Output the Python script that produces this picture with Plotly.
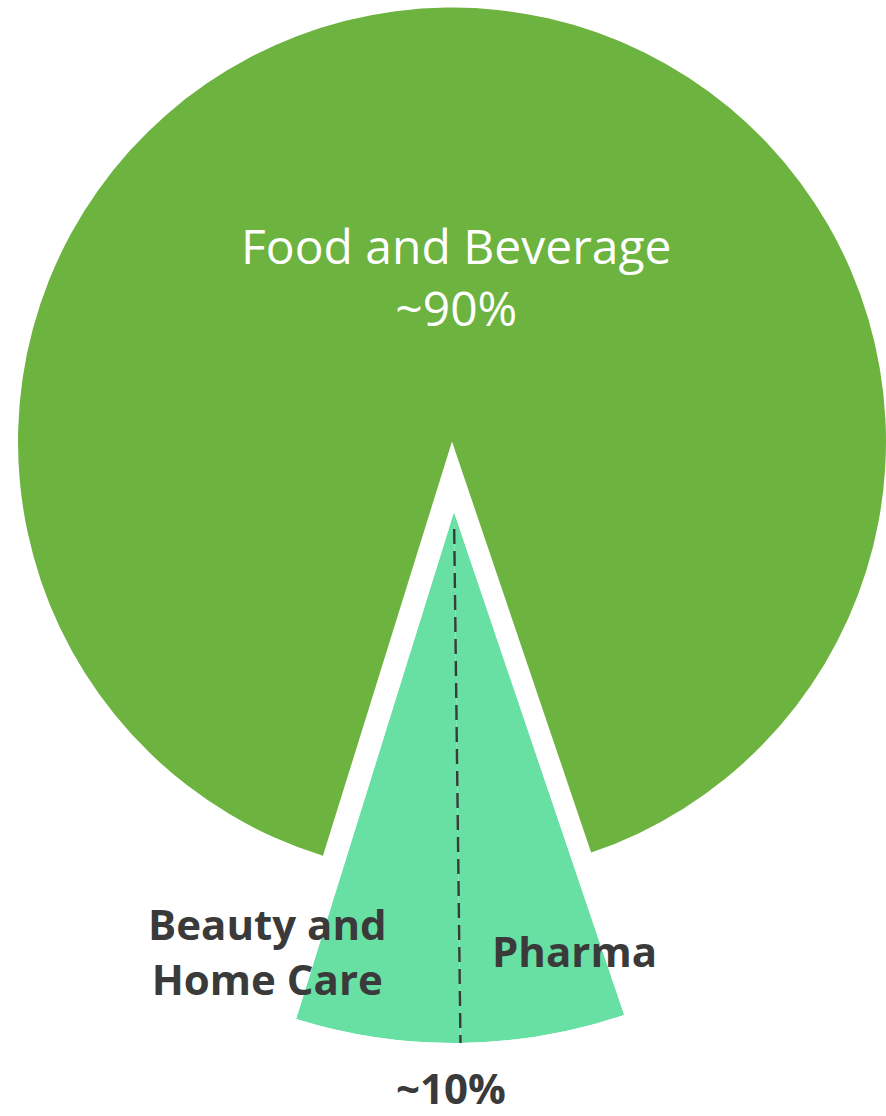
import numpy as np
import plotly.graph_objects as go

# ---------------- data ----------------
categories = ["Food and Beverage", "Pharma", "Beauty and Home Care"]
values = [90, 5, 5]
pct_labels = ["~90%", "~10%"]

# ---------------- style / layout constants ----------------
W, H = 886, 1116
GREEN = "#6db33f"
LIGHT = "#68e0a4"
DARK = "#3a3a3a"
FONT = "Open Sans"
ROT = 197.3                    # start angle of first slice, clockwise from 12 o'clock

# big pie geometry (pixels)
BIG_CX, BIG_CY, BIG_R = 452.0, 441.5, 434.0
# exploded wedge geometry (pixels)
SM_CX, SM_CY, SM_R = 454.0, 512.0, 531.0

vals = np.array(values, dtype=float)
frac = vals / vals.sum()
starts = np.concatenate([[0], np.cumsum(frac)[:-1]])
theta_c = (ROT + (starts + frac / 2) * 360) % 360   # clockwise from top
widths = frac * 360

# sector of the small wedge in polar "sector" convention (ccw from east)
small_lo = ROT + starts[1] * 360
small_hi = ROT + (starts[2] + frac[2]) * 360
sector = [(90 - small_hi) % 360, (90 - small_hi) % 360 + (small_hi - small_lo)]

def sector_bbox(s0, s1):
    angs = np.deg2rad(np.linspace(s0, s1, 721))
    xs = np.concatenate([[0], np.cos(angs)])
    ys = np.concatenate([[0], np.sin(angs)])
    return xs.min(), ys.min(), xs.max(), ys.max()

bx0, by0, bx1, by1 = sector_bbox(*sector)
sm_dom_x = [(SM_CX + SM_R * bx0) / W, (SM_CX + SM_R * bx1) / W]
sm_dom_y = [(H - (SM_CY - SM_R * by0)) / H, (H - (SM_CY - SM_R * by1)) / H]

big_dom_x = [max(0, (BIG_CX - BIG_R) / W), min(1, (BIG_CX + BIG_R) / W)]
big_dom_y = [(H - (BIG_CY + BIG_R)) / H, (H - (BIG_CY - BIG_R)) / H]

fig = go.Figure()

# big slice (Food and Beverage) as pie, other slices invisible
fig.add_trace(go.Pie(
    labels=categories, values=values, sort=False, direction="clockwise",
    rotation=ROT, textinfo="none", hoverinfo="label+percent",
    marker=dict(colors=[GREEN, "rgba(0,0,0,0)", "rgba(0,0,0,0)"],
                line=dict(width=0)),
    domain=dict(x=big_dom_x, y=big_dom_y), showlegend=False,
))

# exploded wedge: Pharma + Beauty and Home Care
fig.add_trace(go.Barpolar(
    r=[1, 1], theta=list(theta_c[1:]), width=list(widths[1:]),
    marker=dict(color=LIGHT, line=dict(width=0)),
    name="", text=categories[1:], hoverinfo="text",
    subplot="polar", showlegend=False,
))

# dashed divider between the two small categories
div_theta = (ROT + starts[2] * 360) % 360
fig.add_trace(go.Scatterpolar(
    r=[0.032, 1.004], theta=[div_theta, div_theta], mode="lines",
    line=dict(color=DARK, width=2.4, dash="15px,7px"),
    cliponaxis=False, hoverinfo="skip", subplot="polar", showlegend=False,
))

fig.update_layout(
    width=W, height=H, margin=dict(l=0, r=0, t=0, b=0),
    paper_bgcolor="white", plot_bgcolor="white",
    polar=dict(
        domain=dict(x=sm_dom_x, y=sm_dom_y),
        sector=sector, bgcolor="rgba(0,0,0,0)",
        radialaxis=dict(visible=False, range=[0, 1]),
        angularaxis=dict(visible=False, rotation=90, direction="clockwise"),
    ),
)

def ann(text, xp, yc, size, color):
    fig.add_annotation(
        text=text, x=xp / W, y=(H - yc) / H,
        xref="paper", yref="paper", xanchor="center", yanchor="middle",
        showarrow=False, font=dict(family=FONT, size=size, color=color),
    )

# text centre y = mean baseline - 0.388 * font size
ann(f"{categories[0]}<br>{pct_labels[0]}", 456.5, (263.5 + 325.9) / 2 - 0.388 * 48, 48, "white")
ann("<b>Beauty and<br>Home Care</b>", 267, (941.7 + 993.3) / 2 - 0.388 * 42, 42, DARK)
ann(f"<b>{categories[1]}</b>", 574, 966.7 - 0.388 * 42, 42, DARK)
ann(f"<b>{pct_labels[1]}</b>", 451, 1103.5 - 0.388 * 42, 42, DARK)

fig.write_html("out.html")
